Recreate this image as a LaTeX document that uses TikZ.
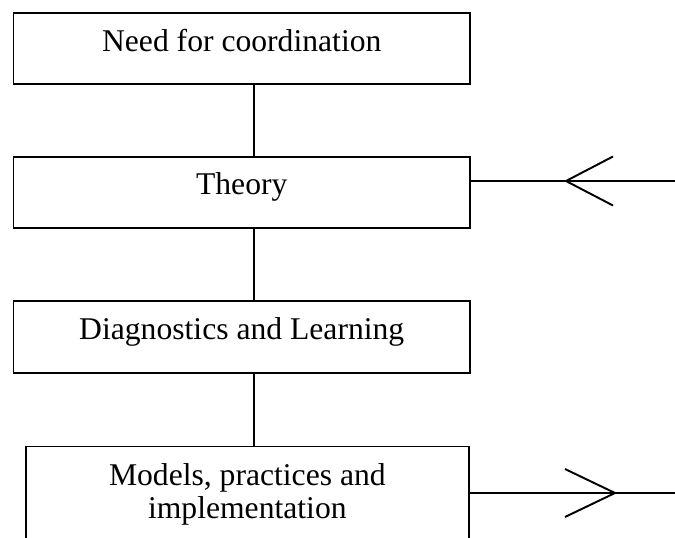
\documentclass[tikz,border=0pt]{standalone}
\usepackage{fontspec}
\setmainfont{Liberation Serif}
\begin{document}
\begin{tikzpicture}[line width=1.1pt,
    bloc/.style={draw, minimum width=9.13cm, minimum height=1.43cm, inner sep=0pt, font=\fontsize{18}{19}\selectfont},
    ligne/.style={text height=0.62em, text depth=0.34em}]
    \useasboundingbox (0,0) rectangle (13.5,-10.76);

    % Boites
    \node[bloc, ligne] (besoin) at (4.835,-0.972) {Need for coordination};
    \node[bloc, ligne] (theorie) at (4.835,-3.85) {Theory};
    \node[bloc, ligne, minimum height=1.45cm] (diag) at (4.835,-6.737) {Diagnostics and Learning};
    \node[bloc, minimum width=8.87cm, minimum height=1.92cm, align=center] (modeles) at (4.947,-9.89) {Models, practices and\\implementation};

    % Liaisons verticales
    \coordinate (axe) at (5.08,0);
    \draw (besoin.south -| axe) -- (theorie.north -| axe);
    \draw (theorie.south -| axe) -- (diag.north -| axe);
    \draw (diag.south -| axe) -- (modeles.north -| axe);

    % Entree vers Theory
    \coordinate (entree) at (13.5,-3.62);
    \coordinate (pointeA) at (11.32,-3.62);
    \draw (entree) -- (theorie.east |- entree);
    \draw (pointeA) ++(0.94,0.49) -- (pointeA) -- ++(0.94,-0.49);

    % Sortie de Models
    \coordinate (sortie) at (13.5,-9.86);
    \coordinate (pointeB) at (12.3,-9.86);
    \draw (modeles.east |- sortie) -- (sortie);
    \draw (pointeB) ++(-1,0.48) -- (pointeB) -- ++(-1,-0.48);
\end{tikzpicture}
\end{document}
